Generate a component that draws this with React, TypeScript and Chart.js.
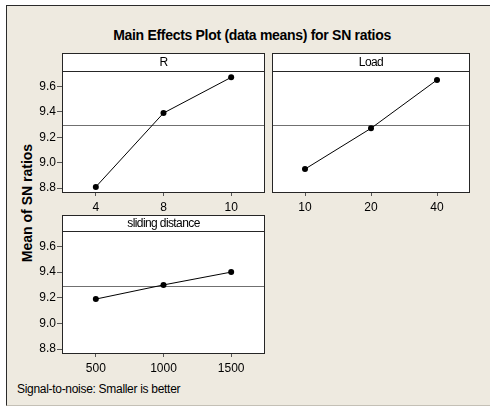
import React, { useEffect, useRef } from "react";
import { Chart, registerables } from "chart.js";

Chart.register(...registerables);

// ---- data ----
const rLevels = ["4", "8", "10"];
const rMeans = [8.81, 9.39, 9.67];
const loadLevels = ["10", "20", "40"];
const loadMeans = [8.95, 9.27, 9.65];
const slidingLevels = ["500", "1000", "1500"];
const slidingMeans = [9.19, 9.3, 9.4];
const yTickValues = [8.8, 9.0, 9.2, 9.4, 9.6];
const yMin = 8.77;
const yMax = 9.72;
const grandMean = 9.295;

const titleText = "Main Effects Plot (data means) for SN ratios";
const yAxisTitle = "Mean of SN ratios";
const footerText = "Signal-to-noise: Smaller is better";

const FONT = "'Liberation Sans', Arial, sans-serif";

function makePanelPlugin(title: string) {
  return {
    id: "panelDecor",
    beforeDraw(chart: any) {
      const { ctx, chartArea: a } = chart;
      ctx.save();
      ctx.fillStyle = "#ffffff";
      ctx.fillRect(a.left, 0, a.right - a.left, a.bottom);
      ctx.restore();
    },
    beforeDatasetsDraw(chart: any) {
      const { ctx, chartArea: a, scales } = chart;
      const y = Math.round(scales.y.getPixelForValue(grandMean)) + 0.5;
      ctx.save();
      ctx.strokeStyle = "#707070";
      ctx.lineWidth = 1;
      ctx.beginPath();
      ctx.moveTo(a.left, y);
      ctx.lineTo(a.right, y);
      ctx.stroke();
      ctx.restore();
    },
    afterDraw(chart: any) {
      const { ctx, chartArea: a } = chart;
      ctx.save();
      ctx.strokeStyle = "#262626";
      ctx.lineWidth = 1;
      const l = a.left + 0.5;
      const r = a.right - 0.5;
      ctx.strokeRect(l, 0.5, r - l, a.bottom);
      ctx.beginPath();
      ctx.moveTo(l, a.top + 0.5);
      ctx.lineTo(r, a.top + 0.5);
      ctx.stroke();
      ctx.fillStyle = "#000";
      ctx.font = "12px " + FONT;
      (ctx as any).letterSpacing = "-0.6px";
      ctx.textAlign = "center";
      ctx.textBaseline = "middle";
      ctx.fillText(title, (a.left + a.right) / 2, a.top / 2 + 1);
      ctx.restore();
    },
  };
}

type PanelProps = {
  title: string;
  levels: string[];
  means: number[];
  showY: boolean;
  left: number;
  top: number;
  width: number;
  height: number;
  strip: number;
  yWidth: number;
  xHeight: number;
};

function Panel(p: PanelProps) {
  const ref = useRef<HTMLCanvasElement | null>(null);
  useEffect(() => {
    if (!ref.current) return;
    const chart = new Chart(ref.current, {
      type: "line",
      data: {
        labels: p.levels,
        datasets: [
          {
            data: p.means,
            borderColor: "#000",
            borderWidth: 1,
            pointRadius: 3,
            pointBackgroundColor: "#000",
            pointBorderWidth: 0,
            tension: 0,
            fill: false,
          },
        ],
      },
      options: {
        animation: false,
        responsive: false,
        maintainAspectRatio: false,
        devicePixelRatio: 1,
        layout: { padding: { top: p.strip, left: 0, right: 0, bottom: 0 } },
        plugins: {
          legend: { display: false },
          tooltip: { enabled: false },
          title: { display: false },
        },
        scales: {
          x: {
            type: "category",
            offset: true,
            border: { display: false },
            grid: {
              display: true,
              drawOnChartArea: false,
              drawTicks: true,
              tickLength: 4,
              color: "#555",
              offset: false,
            },
            ticks: {
              color: "#000",
              padding: 4,
              maxRotation: 0,
              font: { family: FONT, size: 12 },
            },
            afterFit: (s: any) => {
              s.height = p.xHeight;
            },
          },
          y: {
            type: "linear",
            display: p.showY,
            min: yMin,
            max: yMax,
            border: { display: false },
            grid: {
              display: true,
              drawOnChartArea: false,
              drawTicks: true,
              tickLength: 5,
              color: "#555",
            },
            afterBuildTicks: (s: any) => {
              s.ticks = yTickValues.map((v) => ({ value: v }));
            },
            ticks: {
              color: "#000",
              padding: 1,
              font: { family: FONT, size: 12 },
              callback: (v: any) => Number(v).toFixed(1),
            },
            afterFit: (s: any) => {
              s.width = p.yWidth;
            },
          },
        },
      } as any,
      plugins: [makePanelPlugin(p.title)],
    });
    return () => chart.destroy();
  }, []);
  return (
    <canvas
      ref={ref}
      width={p.width}
      height={p.height}
      style={{
        position: "absolute",
        left: p.left,
        top: p.top,
        width: p.width,
        height: p.height,
      }}
    />
  );
}

export default function App() {
  return (
    <div
      style={{
        position: "absolute",
        left: 0,
        top: 0,
        width: 490,
        height: 406,
        background: "#ffffff",
        overflow: "hidden",
        fontFamily: FONT,
      }}
    >
      <div
        style={{
          position: "absolute",
          left: 6,
          top: 5,
          width: 500,
          height: 401,
          boxSizing: "border-box",
          background: "#EEEAE0",
          borderLeft: "1px solid #2a2a2a",
          borderTop: "1px solid #2a2a2a",
          borderBottom: "1px solid #c4c0b6",
        }}
      />
      <div
        style={{
          position: "absolute",
          left: 252,
          top: 35,
          transform: "translate(-50%, -50%)",
          whiteSpace: "nowrap",
          fontWeight: "bold",
          fontSize: 14,
          lineHeight: 1,
          letterSpacing: "-0.3px",
          color: "#000",
        }}
      >
        {titleText}
      </div>
      <div
        style={{
          position: "absolute",
          left: 27,
          top: 203,
          transform: "translate(-50%, -50%) rotate(-90deg)",
          whiteSpace: "nowrap",
          fontWeight: "bold",
          fontSize: 14,
          lineHeight: 1,
          color: "#000",
        }}
      >
        {yAxisTitle}
      </div>
      <div
        style={{
          position: "absolute",
          left: 17,
          top: 389,
          transform: "translateY(-50%)",
          whiteSpace: "nowrap",
          fontSize: 12,
          lineHeight: 1,
          letterSpacing: "-0.3px",
          color: "#000",
        }}
      >
        {footerText}
      </div>
      <Panel
        title="R"
        levels={rLevels}
        means={rMeans}
        showY={true}
        left={0}
        top={53}
        width={269}
        height={161}
        strip={18}
        yWidth={62}
        xHeight={22}
      />
      <Panel
        title="Load"
        levels={loadLevels}
        means={loadMeans}
        showY={false}
        left={268}
        top={53}
        width={206}
        height={161}
        strip={18}
        yWidth={0}
        xHeight={22}
      />
      <Panel
        title="sliding distance"
        levels={slidingLevels}
        means={slidingMeans}
        showY={true}
        left={0}
        top={215}
        width={269}
        height={160}
        strip={16}
        yWidth={62}
        xHeight={22}
      />
    </div>
  );
}
